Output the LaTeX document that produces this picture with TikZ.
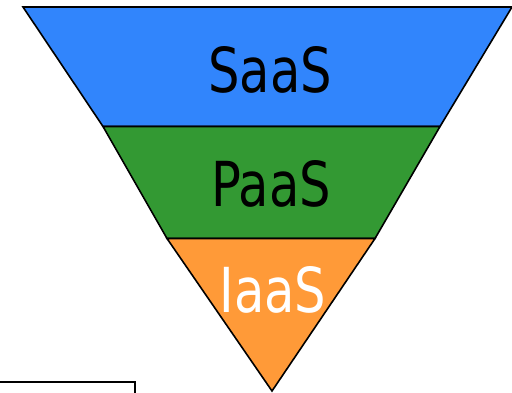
\documentclass[tikz,border=0pt]{standalone}
\usepackage{fontspec}
\setmainfont{DejaVu Sans}
\definecolor{saasblue}{HTML}{3185FC}
\definecolor{paasgreen}{HTML}{339933}
\definecolor{iaasorange}{HTML}{FF9A38}
\begin{document}
\begin{tikzpicture}[x=1bp,y=-1bp,
  band/.style={draw=black,line width=1.6bp,line join=miter},
  lbl/.style={font=\fontsize{62bp}{62bp}\selectfont,xscale=0.8,inner sep=0pt,anchor=base}]
\useasboundingbox (0,0) rectangle (512,392);
\clip (0,0) rectangle (512,392);
\fill[white] (0,0) rectangle (512,392);
% bands
\filldraw[band,fill=saasblue] (23,7) -- (512,7) -- (440,126.5) -- (103,126.5) -- cycle;
\filldraw[band,fill=paasgreen] (103,126.5) -- (440,126.5) -- (375,238.5) -- (167,238.5) -- cycle;
\filldraw[band,fill=iaasorange] (167,238.5) -- (375,238.5) -- (272,391) -- cycle;
% labels
\node[lbl,text=black] (saas) at (270,92) {SaaS};
\node[lbl,text=black] (paas) at (271,206) {PaaS};
\node[lbl,text=white] (iaas) at (273,312) {IaaS};
% box at bottom left
\draw[line width=2bp] (-5,381.5) -- (134.5,381.5) -- (134.5,400);
\end{tikzpicture}
\end{document}
